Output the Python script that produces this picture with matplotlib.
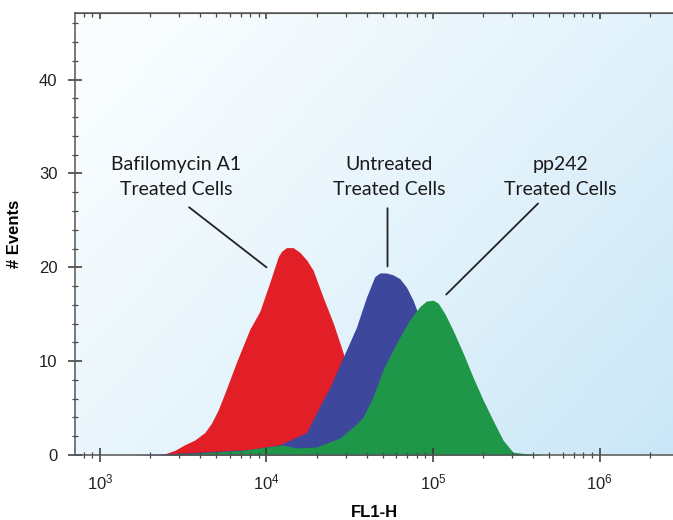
import numpy as np
import matplotlib
matplotlib.use("Agg")
import matplotlib.pyplot as plt
from matplotlib.ticker import MultipleLocator, LogLocator, NullFormatter
from matplotlib.colors import to_rgb

plt.rcParams['font.family'] = ['Liberation Sans', 'DejaVu Sans']
plt.rcParams['mathtext.fontset'] = 'custom'
plt.rcParams['mathtext.rm'] = 'Liberation Sans'
plt.rcParams['mathtext.it'] = 'Liberation Sans'

# histogram outlines: log10(FL1-H) and # events
red_log = [3.37, 3.45, 3.51, 3.57, 3.63, 3.67, 3.71, 3.75, 3.82, 3.90, 3.96,
           4.02, 4.07, 4.09, 4.12, 4.16, 4.20, 4.24, 4.28, 4.34, 4.40, 4.46,
           4.52, 4.58, 4.65, 4.74, 4.86, 4.98]
red_events = [0.0, 0.5, 1.1, 1.6, 2.4, 3.4, 4.8, 6.6, 9.9, 13.4, 15.3,
              18.4, 21.1, 21.7, 22.1, 22.1, 21.6, 20.8, 19.7, 16.8, 14.1, 10.9,
              7.5, 4.8, 2.6, 1.2, 0.5, 0.1]

blue_log = [3.19, 3.36, 3.60, 3.90, 4.08, 4.24, 4.30, 4.34, 4.38, 4.46, 4.54,
            4.60, 4.65, 4.68, 4.72, 4.76, 4.80, 4.84, 4.88, 4.91, 4.98, 5.07,
            5.16, 5.25, 5.37, 5.52, 5.64]
blue_events = [0.0, 0.1, 0.3, 0.6, 1.1, 2.4, 4.5, 5.9, 7.2, 10.4, 13.6,
               16.8, 19.0, 19.4, 19.4, 19.2, 18.8, 17.9, 16.5, 15.1, 11.5, 7.0,
               3.8, 1.8, 0.6, 0.1, 0.0]

green_log = [3.37, 3.64, 3.86, 4.00, 4.10, 4.18, 4.30, 4.38, 4.44, 4.50, 4.54,
             4.58, 4.64, 4.70, 4.78, 4.86, 4.92, 4.96, 5.00, 5.03, 5.07, 5.12,
             5.18, 5.24, 5.30, 5.36, 5.42, 5.48, 5.58, 5.66]
green_events = [0.0, 0.25, 0.5, 0.85, 1.05, 0.75, 0.85, 1.4, 1.8, 2.7, 3.3,
                4.05, 6.2, 9.1, 11.9, 14.4, 15.8, 16.4, 16.5, 16.2, 15.1, 13.3,
                10.9, 8.3, 5.9, 3.7, 1.6, 0.3, 0.1, 0.0]

labels = ['Bafilomycin A1\nTreated Cells', 'Untreated\nTreated Cells',
          'pp242\nTreated Cells']
label_xy = [(2.88e3, 29.6), (5.44e4, 29.6), (5.79e5, 29.6)]
pointer_start = [(3.43e3, 26.4), (5.33e4, 26.3), (4.27e5, 26.8)]
pointer_end = [(1.0e4, 20.0), (5.33e4, 20.1), (1.2e5, 17.1)]

fig = plt.figure(figsize=(6.73, 5.2), dpi=100)
pos = [0.1114, 0.125, 0.8886, 0.85]

# gradient background
bg = fig.add_axes(pos, zorder=0)
c0 = np.array(to_rgb('#fbfeff'))
c1 = np.array(to_rgb('#cae7f7'))
u, v = np.meshgrid(np.linspace(0, 1, 200), np.linspace(1, 0, 200))
t = (u * 0.6 + (1 - v) * 0.4)
grad = c0 + (c1 - c0) * (t ** 1.2)[..., None]
bg.imshow(grad, extent=[0, 1, 0, 1], aspect='auto')
bg.axis('off')

ax = fig.add_axes(pos, zorder=1)
ax.set_facecolor('none')

ax.fill_between(10 ** np.array(red_log), red_events, color='#e21f27', lw=0)
ax.fill_between(10 ** np.array(blue_log), blue_events, color='#3d479c', lw=0)
ax.fill_between(10 ** np.array(green_log), green_events, color='#1f9749', lw=0)

ax.set_xscale('log')
ax.set_xlim(10 ** 2.85, 10 ** 6.441)
ax.set_ylim(0, 47.1)

ax.yaxis.set_major_locator(MultipleLocator(10))
ax.yaxis.set_minor_locator(MultipleLocator(2))
ax.xaxis.set_major_locator(LogLocator(base=10))
ax.xaxis.set_minor_locator(LogLocator(base=10, subs=np.arange(2, 10)))
ax.xaxis.set_minor_formatter(NullFormatter())

for s in ['left', 'bottom', 'top']:
    ax.spines[s].set_color('#555555')
    ax.spines[s].set_linewidth(1.1)
ax.spines['right'].set_visible(False)

ax.tick_params(axis='y', which='major', direction='inout', length=9.4,
               width=1.1, color='#333333', labelsize=12, pad=8, labelcolor='#222222')
ax.tick_params(axis='y', which='minor', direction='inout', length=3.8,
               width=0.9, color='#444444')
ax.tick_params(axis='x', which='major', direction='inout', length=9.4,
               width=1.1, color='#333333', labelsize=12, pad=8, labelcolor='#222222')
ax.tick_params(axis='x', which='minor', direction='inout', length=4.3,
               width=0.9, color='#444444')

top = ax.secondary_xaxis('top')
top.xaxis.set_major_locator(LogLocator(base=10))
top.xaxis.set_minor_locator(LogLocator(base=10, subs=np.arange(2, 10)))
top.tick_params(which='major', direction='in', length=4.3, width=1.1,
                color='#333333', labeltop=False)
top.tick_params(which='minor', direction='in', length=3.0, width=0.9,
                color='#444444')
top.xaxis.set_major_formatter(NullFormatter())
top.xaxis.set_minor_formatter(NullFormatter())
top.spines['top'].set_color('#555555')

ax.set_ylabel('# Events', fontsize=12, fontweight='bold')
ax.set_xlabel('FL1-H', fontsize=12, fontweight='bold')
ax.yaxis.set_label_coords(-0.088, 0.5)
ax.xaxis.set_label_coords(0.5, -0.112)

for txt, xy, p0, p1 in zip(labels, label_xy, pointer_start, pointer_end):
    ax.text(xy[0], xy[1], txt, ha='center', va='center', fontsize=14,
            family=['Lato', 'DejaVu Sans'], color='#1a1a1a', linespacing=1.55)
    ax.annotate('', xy=p1, xytext=p0,
                arrowprops=dict(arrowstyle='-', lw=1.3, color='#222222',
                                shrinkA=0, shrinkB=0))

fig.savefig('out.png', dpi=100)
